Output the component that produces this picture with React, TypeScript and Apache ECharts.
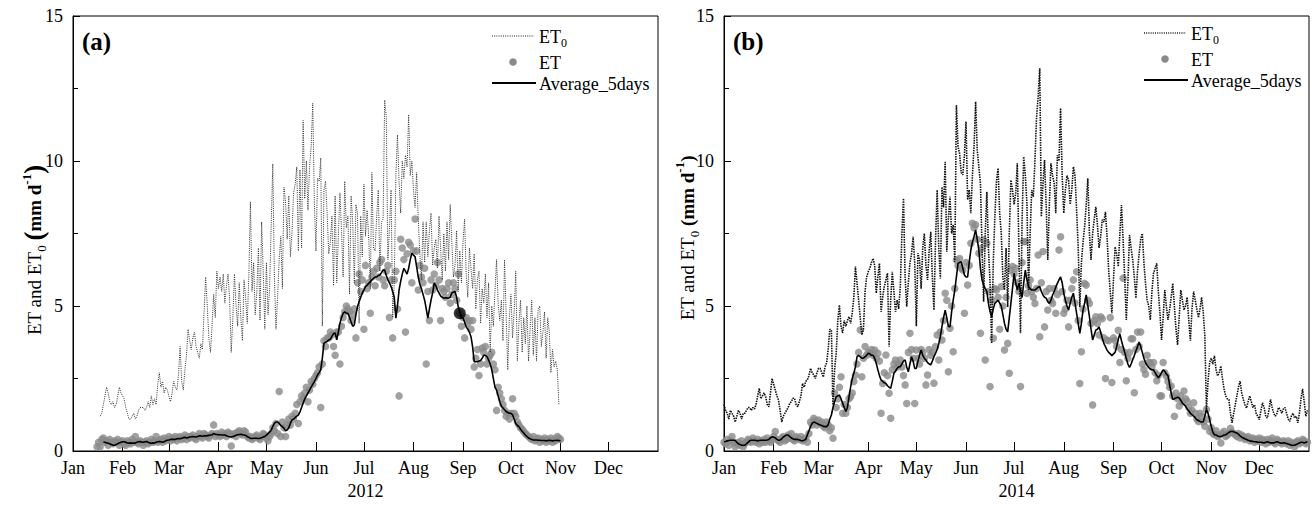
import React, { useEffect, useRef } from "react";
import * as echarts from "echarts";

const FONT = "'Liberation Serif', 'Times New Roman', serif";
const MONTHS = ["Jan", "Feb", "Mar", "Apr", "May", "Jun", "Jul", "Aug", "Sep", "Oct", "Nov", "Dec"];
const MONTH_STARTS_2012 = [0, 31, 60, 91, 121, 152, 182, 213, 244, 274, 305, 335];
const MONTH_STARTS_2014 = [0, 31, 59, 90, 120, 151, 181, 212, 243, 273, 304, 334];
const Y_TICKS = [0, 5, 10, 15];

// Panel (a) 2012 — day-of-year index of first value
const A_ET0_START = 17;
const A_ET0 = [
  1.2,1.3,1.6,1.9,2.2,2.0,1.7,1.6,1.7,1.5,
  1.6,1.9,2.2,2.0,1.9,1.8,1.5,1.3,1.1,1.1,
  1.2,1.3,1.1,1.2,1.4,1.5,1.5,1.5,1.4,1.5,
  1.7,1.5,1.9,1.6,1.8,1.6,2.3,2.7,2.2,2.4,
  2.0,2.2,2.1,1.9,1.7,2.0,2.4,2.2,2.1,2.6,
  3.6,2.4,2.1,2.8,3.3,4.2,3.8,3.5,3.9,4.1,
  3.6,3.4,3.2,3.7,3.5,4.8,6.0,5.0,3.9,3.4,
  4.3,5.4,4.6,6.2,5.6,6.0,5.5,6.1,5.1,5.7,
  6.1,5.2,3.4,4.6,6.1,5.0,4.3,5.8,4.6,3.8,
  5.9,5.3,4.4,6.0,8.6,5.5,6.5,4.7,5.5,7.0,
  4.5,7.9,6.2,4.2,6.5,4.7,5.6,7.8,9.9,6.0,
  4.2,5.3,6.6,7.4,5.6,9.1,8.6,7.3,8.8,6.7,
  7.5,8.9,9.2,9.8,6.9,9.7,7.0,11.4,8.7,10.0,
  8.3,9.8,10.5,12.0,8.6,6.9,9.4,9.3,10.1,4.3,
  9.0,9.3,8.2,6.8,7.2,8.1,5.7,8.8,5.8,7.4,
  8.9,7.6,6.0,9.3,7.7,8.1,5.4,8.8,7.9,5.8,
  8.5,8.2,4.4,8.1,6.7,9.2,7.4,8.3,7.4,5.6,
  9.6,7.0,6.9,8.1,9.0,6.2,7.9,8.0,12.1,11.5,
  6.6,7.7,9.0,4.6,5.8,9.5,10.9,9.3,8.2,10.0,
  9.4,10.2,9.8,11.6,9.5,10.0,9.0,8.4,9.6,8.0,
  6.8,5.9,7.9,6.5,7.9,6.7,7.6,8.2,6.4,7.0,
  7.3,6.3,8.1,7.0,5.9,7.5,6.2,7.9,6.6,8.5,
  7.2,6.0,6.4,7.6,5.5,6.9,5.8,7.2,8.0,6.1,
  5.3,7.0,6.3,5.6,6.8,4.9,5.9,6.2,4.4,5.6,
  5.1,6.1,4.6,5.8,3.4,5.0,4.3,5.5,6.6,5.1,
  4.5,5.2,3.8,6.6,4.7,2.8,4.6,5.4,3.9,4.8,
  6.2,3.1,4.4,5.2,3.4,4.6,3.7,5.0,3.1,4.2,
  5.2,3.3,4.6,3.1,4.9,5.0,3.6,4.1,4.8,3.2,
  4.6,4.1,2.7,3.5,2.9,3.1,2.8,1.6,
];

const A_ET_START = 15;
const A_ET = [
  0.15,0.3,0.15,0.4,0.45,0.3,0.35,0.2,0.4,0.3,
  0.25,0.35,0.3,0.4,0.2,0.3,0.35,0.25,0.2,0.35,
  0.3,0.25,0.4,0.3,0.5,0.3,0.25,0.35,0.3,0.2,
  0.3,0.35,0.25,0.3,0.4,0.3,0.35,0.5,0.3,0.35,
  0.4,0.3,0.45,0.35,0.4,0.5,0.35,0.45,0.4,0.5,
  0.35,0.45,0.5,0.4,0.45,0.55,0.4,0.5,0.45,0.5,
  0.55,0.45,0.4,0.5,0.6,0.5,0.45,0.6,0.55,0.5,
  0.45,0.55,0.6,0.9,0.5,0.6,0.55,0.5,0.65,0.55,
  0.6,0.5,0.65,0.6,0.17,0.55,0.6,0.5,0.65,0.7,
  0.6,0.55,0.7,0.65,0.5,0.45,0.5,0.4,0.45,0.5,
  0.55,0.45,0.4,0.5,0.6,0.55,0.45,0.35,0.5,0.6,
  0.8,0.7,0.95,0.6,2.05,0.5,1.0,0.8,0.5,0.9,
  1.1,0.9,1.2,1.1,1.3,1.6,0.95,1.7,1.9,1.8,
  2.0,2.2,1.7,2.1,2.4,2.3,2.5,2.6,2.7,2.9,
  1.5,3.0,3.8,3.6,3.9,3.9,4.1,4.0,3.6,3.3,
  4.1,4.1,3.0,4.3,4.6,4.8,5.0,4.9,4.8,4.5,
  4.7,4.9,3.9,5.8,6.1,5.5,5.9,4.2,6.4,5.6,
  5.8,4.75,6.0,6.2,5.7,6.3,6.0,6.5,6.6,5.9,
  5.7,6.2,6.4,4.6,5.9,3.9,5.9,6.2,4.9,1.9,
  7.3,7.0,6.6,4.1,6.8,7.2,7.1,5.8,6.9,8.0,
  6.9,5.55,6.4,6.0,5.8,6.3,3.0,5.5,4.5,5.9,
  5.55,6.1,5.7,6.5,5.9,4.5,5.6,5.5,5.3,5.6,
  5.8,5.1,5.4,5.8,5.6,5.2,6.1,4.75,4.3,4.6,
  3.9,4.6,4.4,4.5,4.2,4.5,2.9,3.2,3.5,2.6,
  3.0,3.55,3.4,3.6,3.0,3.2,3.3,3.4,3.0,2.8,
  1.4,2.2,2.0,1.8,1.6,1.4,1.2,1.3,1.1,1.3,
  1.8,1.3,1.2,1.0,0.9,0.8,0.75,0.67,0.6,0.55,
  0.5,0.45,0.4,0.5,0.35,0.4,0.45,0.3,0.4,0.35,
  0.45,0.3,0.4,0.35,0.45,0.3,0.4,0.35,0.5,0.45,0.4,
];

const A_AVG_START = 19;
const A_AVG = [
  0.3,0.3,0.28,0.27,0.25,0.22,0.2,0.2,0.22,0.25,
  0.28,0.3,0.32,0.32,0.3,0.28,0.27,0.28,0.27,0.27,
  0.27,0.3,0.32,0.33,0.3,0.3,0.32,0.33,0.3,0.28,
  0.27,0.28,0.27,0.3,0.32,0.33,0.32,0.3,0.32,0.35,
  0.37,0.38,0.4,0.4,0.4,0.4,0.42,0.43,0.42,0.44,
  0.46,0.47,0.45,0.46,0.48,0.49,0.5,0.49,0.48,0.5,
  0.52,0.52,0.51,0.52,0.52,0.53,0.54,0.55,0.56,0.6,
  0.58,0.57,0.56,0.56,0.55,0.55,0.55,0.53,0.5,0.49,
  0.48,0.5,0.52,0.54,0.56,0.57,0.58,0.56,0.55,0.54,
  0.5,0.47,0.44,0.43,0.44,0.44,0.44,0.43,0.44,0.46,
  0.48,0.5,0.55,0.6,0.65,0.72,0.85,0.95,1.0,1.0,
  0.95,0.88,0.84,0.78,0.7,0.72,0.8,0.95,1.07,1.1,
  1.15,1.2,1.24,1.35,1.5,1.65,1.8,1.9,2.0,2.1,
  2.2,2.3,2.39,2.5,2.62,2.7,2.8,3.2,3.72,3.75,
  3.78,3.83,3.85,3.95,4.05,4.07,3.83,4.1,4.4,4.6,
  4.75,4.8,4.75,4.75,4.6,4.45,4.3,4.35,4.7,4.98,
  5.15,5.3,5.45,5.55,5.67,5.72,5.78,5.84,5.9,5.95,
  6.0,6.0,6.05,6.07,6.15,6.24,6.24,6.05,5.9,5.8,
  5.67,5.5,5.3,4.58,5.0,5.55,5.85,6.1,6.3,6.2,
  6.1,6.3,6.6,6.82,6.75,6.7,6.35,6.0,5.75,5.6,
  5.4,5.2,4.9,4.58,4.9,5.2,5.45,5.8,5.7,5.55,
  5.45,5.35,5.3,5.27,5.28,5.28,5.27,5.3,5.45,5.48,
  5.5,5.3,4.98,4.8,4.6,4.58,4.45,4.28,4.2,4.1,
  3.94,3.6,3.08,3.08,3.08,3.1,3.12,3.2,3.3,3.3,
  3.25,3.14,3.0,2.8,2.5,2.2,2.1,1.9,1.7,1.55,
  1.48,1.42,1.36,1.33,1.3,1.3,1.25,1.1,0.95,0.88,
  0.84,0.75,0.68,0.62,0.55,0.5,0.45,0.42,0.4,0.38,
  0.38,0.38,0.37,0.37,0.36,0.36,0.36,0.35,0.36,0.37,
  0.36,0.35,0.36,0.36,0.37,0.36,0.35,
];

const A_MARK_DAY = [242];
const A_MARK_VALUE = [4.75];

// Panel (b) 2014 — values from Jan 1 (day 0)
const B_ET0 = [
  1.6,1.4,1.3,1.1,1.4,1.3,1.2,1.0,1.2,1.4,
  1.3,1.1,1.3,1.3,1.4,1.5,1.5,1.4,1.5,1.45,
  1.6,1.9,2.16,1.8,1.9,2.0,1.87,1.6,1.53,2.0,
  2.5,2.3,2.1,1.9,1.76,1.4,1.0,1.2,1.3,1.4,
  1.5,1.64,1.7,1.82,1.82,1.6,1.53,1.7,1.9,2.33,
  2.2,2.4,2.45,2.6,2.85,2.7,2.62,2.5,2.7,2.85,
  2.85,2.7,2.55,2.9,3.03,3.5,4.2,4.17,1.59,2.8,
  3.37,4.5,5.03,4.3,4.07,4.5,4.3,4.5,4.63,4.4,
  4.75,5.3,6.36,5.8,5.2,4.6,4.0,4.2,5.5,6.0,
  6.18,6.3,6.5,6.64,6.4,5.44,6.0,6.47,4.8,5.3,
  5.67,5.9,6.13,3.6,5.2,6.18,5.5,4.8,5.2,4.9,
  5.67,7.5,8.71,6.0,4.98,5.8,6.47,6.8,7.39,6.5,
  4.3,6.82,6.59,5.6,7.0,7.5,6.4,5.9,6.9,7.56,
  6.0,4.86,7.3,9.0,7.0,5.95,9.1,8.4,9.97,6.87,
  8.0,8.77,7.5,7.8,6.53,11.93,10.5,10.26,9.6,9.52,
  10.2,11.36,8.66,9.0,8.2,9.5,10.5,12.05,10.38,9.8,
  9.23,7.0,5.15,7.5,8.94,7.0,5.78,3.71,6.5,8.08,
  9.3,9.75,8.2,7.5,6.0,5.55,7.0,4.97,7.5,9.34,
  9.0,8.5,8.88,9.92,7.0,4.06,8.0,10.15,9.5,8.54,
  5.55,7.5,9.0,8.77,10.0,11.5,12.2,13.2,8.08,9.2,
  10.03,8.5,6.59,8.5,9.92,9.5,9.23,8.2,10.2,10.0,
  11.82,9.5,8.2,9.0,9.5,9.34,8.5,9.0,9.8,9.5,
  8.31,7.0,4.97,6.5,7.2,7.73,8.5,9.4,7.5,6.59,
  7.5,8.0,8.42,7.8,7.0,7.39,7.97,7.9,8.25,7.39,
  6.24,5.5,4.75,5.9,7.04,6.8,6.36,7.5,8.48,7.28,
  6.0,4.52,5.8,7.45,7.0,6.59,6.0,5.27,6.2,6.8,
  7.3,7.5,6.5,5.78,5.2,5.0,4.52,5.5,6.13,6.3,
  6.47,5.5,4.75,3.83,4.6,5.55,5.0,4.52,4.86,5.3,
  5.78,5.0,4.2,3.66,4.6,5.55,5.2,4.86,5.0,5.3,
  4.5,3.8,4.9,5.5,5.2,4.9,4.6,4.9,5.3,4.8,
  3.98,1.43,2.4,3.05,3.2,3.0,3.29,2.8,2.59,2.7,
  2.93,2.5,2.14,1.9,1.8,1.78,1.3,0.97,1.3,1.6,
  1.9,2.2,2.41,2.0,1.78,1.6,1.48,1.7,1.9,1.7,
  1.5,1.6,1.3,1.2,1.08,1.4,1.66,1.5,1.2,1.14,
  1.4,1.78,1.5,1.3,1.2,1.3,1.5,1.43,1.3,1.45,
  1.5,1.3,1.1,1.02,1.2,1.3,1.14,1.2,0.97,1.3,
  1.8,2.14,1.7,1.2,1.4,
];

const B_ET = [
  0.3,0.25,0.4,0.2,0.35,0.5,0.3,0.15,0.25,0.3,
  0.2,0.35,0.15,0.25,0.3,0.4,0.35,0.3,0.45,0.35,
  0.3,0.4,0.25,0.35,0.3,0.4,0.3,0.45,0.35,0.3,
  0.4,0.5,0.67,0.4,0.35,0.3,0.45,0.5,0.35,0.4,
  0.55,0.45,0.6,0.4,0.35,0.5,0.45,0.4,0.5,0.35,
  0.4,0.45,0.3,0.6,1.0,0.9,1.13,1.05,0.9,1.07,
  0.95,1.0,0.85,0.8,1.0,0.9,0.7,0.8,0.44,2.0,
  1.5,1.8,2.2,2.56,1.3,1.6,1.3,1.5,1.8,1.87,
  2.0,2.4,2.62,3.0,3.4,4.17,2.56,3.2,3.6,3.3,
  3.4,3.37,3.5,3.3,3.48,3.2,3.37,3.1,1.3,2.33,
  2.7,3.31,2.6,1.99,1.13,2.8,3.0,3.14,2.9,3.0,
  3.14,2.9,2.6,2.28,1.64,3.4,4.06,3.5,3.2,1.64,
  3.48,3.2,3.0,3.5,3.4,3.2,2.28,2.62,3.5,3.3,
  3.4,2.34,3.6,4.0,3.14,4.1,3.83,4.5,5.44,5.2,
  2.73,4.23,5.0,3.42,5.6,6.59,6.4,6.64,6.3,6.24,
  4.75,6.5,5.72,6.4,7.16,7.85,7.7,7.8,7.3,6.82,
  4.06,7.0,7.28,3.14,7.16,5.5,2.22,5.2,3.89,5.6,
  5.55,5.3,4.2,5.67,5.0,3.48,5.3,3.71,2.68,6.24,
  6.36,6.1,6.3,5.8,5.5,2.22,6.5,7.22,7.22,5.44,
  5.7,5.9,5.5,5.3,5.09,5.6,6.76,3.94,5.8,6.88,
  4.28,5.5,4.86,5.6,5.2,5.09,5.6,4.75,5.4,6.93,
  7.39,5.5,4.75,4.9,5.2,4.28,5.2,5.6,5.9,5.1,
  6.18,4.5,2.33,3.42,4.9,5.78,5.72,5.2,5.09,4.4,
  1.59,4.5,4.63,4.4,4.0,4.63,4.56,3.9,2.5,3.83,
  3.8,4.6,2.36,3.9,3.81,3.6,4.16,3.05,3.5,5.96,
  3.4,2.42,3.2,3.4,3.87,3.87,2.01,3.5,4.1,3.6,
  4.1,3.0,2.8,2.65,3.3,3.05,3.05,2.9,3.05,2.7,
  2.42,2.6,1.9,1.9,3.05,2.7,2.59,2.4,2.2,2.24,
  1.9,1.2,2.0,1.8,1.55,1.9,1.7,2.07,1.8,1.71,
  1.5,1.3,1.4,1.66,1.3,1.1,1.02,1.3,1.2,1.0,
  0.85,1.43,1.1,0.68,0.8,0.6,0.57,0.7,0.5,0.55,
  0.28,0.6,0.68,0.5,0.55,0.6,0.78,0.65,0.6,0.57,
  0.5,0.6,0.45,0.55,0.5,0.4,0.45,0.5,0.35,0.4,
  0.45,0.3,0.4,0.35,0.45,0.3,0.4,0.35,0.25,0.4,
  0.3,0.35,0.45,0.3,0.25,0.4,0.35,0.3,0.25,0.35,
  0.3,0.25,0.35,0.2,0.3,0.25,0.15,0.3,0.35,0.25,
  0.3,0.4,0.35,0.25,0.3,
];

const B_AVG = [
  0.32,0.33,0.35,0.36,0.37,0.37,0.37,0.36,0.3,0.25,
  0.22,0.2,0.2,0.2,0.25,0.3,0.35,0.37,0.37,0.37,
  0.36,0.35,0.36,0.37,0.37,0.37,0.37,0.38,0.4,0.45,
  0.49,0.48,0.45,0.4,0.37,0.38,0.42,0.48,0.52,0.55,
  0.55,0.5,0.45,0.42,0.4,0.4,0.4,0.38,0.36,0.35,
  0.37,0.4,0.55,0.7,0.84,0.95,1.0,0.98,0.95,0.92,
  0.9,0.88,0.85,0.84,0.84,0.9,1.1,1.24,1.5,1.7,
  1.87,1.9,1.93,1.8,1.65,1.5,1.36,1.5,1.87,2.2,
  2.5,2.68,2.9,3.25,3.3,3.25,3.2,3.2,3.25,3.3,
  3.37,3.35,3.3,3.3,3.2,3.02,2.8,2.6,2.45,2.4,
  2.35,2.33,2.25,2.2,2.16,2.4,2.68,2.75,2.85,2.9,
  2.91,3.0,3.1,3.14,2.9,2.73,3.0,3.25,3.1,2.85,
  2.85,3.1,3.3,3.48,3.3,3.2,3.14,3.05,3.0,2.97,
  3.1,3.25,3.37,3.5,3.7,3.94,4.3,4.6,4.86,4.6,
  4.3,4.28,4.8,5.2,5.55,6.0,6.47,6.5,6.53,6.3,
  6.07,6.0,6.0,6.5,6.93,7.2,7.4,7.62,7.3,6.93,
  6.3,5.9,5.72,5.6,5.5,5.09,4.8,4.63,4.9,5.09,
  5.15,5.2,5.1,5.0,4.7,4.4,4.2,4.11,4.6,5.09,
  5.6,6.13,5.8,5.55,5.78,5.5,5.3,5.8,6.24,5.9,
  5.67,5.6,5.55,5.55,5.55,5.6,5.65,5.67,5.5,5.38,
  5.3,5.27,5.15,5.09,5.2,5.38,5.5,5.65,5.78,5.9,
  6.0,5.8,5.44,5.2,5.0,4.86,5.1,5.3,5.44,5.1,
  4.75,4.4,4.06,4.4,4.86,5.1,5.38,5.0,4.63,4.2,
  3.83,4.0,4.17,4.2,4.28,4.1,3.9,3.71,3.6,3.48,
  3.4,3.35,3.29,3.35,3.4,3.6,3.85,4.04,3.8,3.6,
  3.4,3.2,3.0,2.88,3.0,3.15,3.29,3.45,3.6,3.76,
  3.6,3.4,3.2,3.05,2.95,2.88,2.83,2.8,2.8,2.7,
  2.6,2.53,2.6,2.7,2.8,2.75,2.65,2.6,2.3,2.0,
  1.78,1.8,1.83,1.85,1.83,1.75,1.65,1.6,1.55,1.45,
  1.38,1.3,1.25,1.2,1.15,1.08,1.05,1.02,1.0,1.0,
  1.2,1.43,1.3,1.08,0.85,0.65,0.56,0.55,0.52,0.5,
  0.5,0.52,0.55,0.56,0.6,0.64,0.67,0.68,0.66,0.64,
  0.62,0.58,0.52,0.48,0.45,0.42,0.4,0.37,0.35,0.34,
  0.33,0.32,0.32,0.3,0.3,0.3,0.29,0.28,0.3,0.32,
  0.3,0.28,0.28,0.28,0.3,0.32,0.3,0.28,0.27,0.28,
  0.28,0.26,0.24,0.22,0.2,0.2,0.2,0.22,0.25,0.28,
  0.3,0.3,0.28,0.3,0.32,
];

const toPairs = (start: number, arr: number[]) => arr.map((v, i) => [start + i, v]);

const GRID_TOP = 16;
const GRID_H = 435;
const GRID_W = 585;
const GRID_A_LEFT = 73;
const GRID_B_LEFT = 724;

function xAxisFor(gridIndex: number, starts: number[], max: number, year: string) {
  return {
    type: "value",
    gridIndex,
    min: 0,
    max,
    name: year,
    nameLocation: "middle",
    nameGap: 31,
    nameTextStyle: { fontFamily: FONT, fontSize: 18, color: "#000" },
    axisLine: { show: true, lineStyle: { color: "#000", width: 1 } },
    axisTick: { show: true, inside: true, length: 9, customValues: starts, lineStyle: { color: "#000" } },
    axisLabel: {
      show: true,
      customValues: starts,
      margin: 8,
      fontFamily: FONT,
      fontSize: 18,
      color: "#000",
      formatter: (v: number) => MONTHS[starts.indexOf(v)] ?? "",
    },
    splitLine: { show: false },
  };
}

function yAxisFor(gridIndex: number) {
  return {
    type: "value",
    gridIndex,
    min: 0,
    max: 15,
    interval: 5,
    axisLine: { show: true, lineStyle: { color: "#000", width: 1 } },
    axisTick: { show: true, inside: true, length: 7, lineStyle: { color: "#000" } },
    minorTick: { show: true, splitNumber: 2, length: 5, lineStyle: { color: "#000" } },
    axisLabel: {
      margin: 10,
      fontFamily: FONT,
      fontSize: 18,
      color: "#000",
      customValues: Y_TICKS,
    },
    splitLine: { show: false },
    minorSplitLine: { show: false },
  };
}

function yNameFor(x: number, y: number, big: boolean) {
  return {
    type: "text",
    x,
    y,
    rotation: Math.PI / 2,
    style: {
      text: "{n|ET and ET}{s|0}{n| }{bp|(}{b|mm d}{p|-1}{bp|)}",
      align: "center",
      verticalAlign: "middle",
      rich: {
        n: { fontFamily: FONT, fontSize: 19, fill: "#000", lineHeight: 28, verticalAlign: "middle" },
        s: { fontFamily: FONT, fontSize: 13, fill: "#000", lineHeight: 28, verticalAlign: "bottom" },
        b: { fontFamily: FONT, fontSize: 19, fontWeight: "bold", fill: "#000", lineHeight: 28, verticalAlign: "middle" },
        bp: { fontFamily: FONT, fontSize: big ? 27 : 19, fontWeight: "bold", fill: "#000", lineHeight: 28, verticalAlign: "middle" },
        p: { fontFamily: FONT, fontSize: 13, fontWeight: "bold", fill: "#000", lineHeight: 28, verticalAlign: "top" },
      },
    },
  };
}

function legendFor(left: number, top: number, dotWidth: number) {
  const rich = {
    a: { fontFamily: FONT, fontSize: 18, fill: "#000", lineHeight: 24, verticalAlign: "middle" },
    s: { fontFamily: FONT, fontSize: 12, fill: "#000", lineHeight: 24, verticalAlign: "bottom" },
  };
  return [
    { type: "line", shape: { x1: left, y1: top, x2: left + 42, y2: top }, style: { stroke: "#222", lineWidth: dotWidth, lineDash: [1, 1.2] } },
    { type: "text", x: left + 47, y: top + 1, style: { text: "{a|ET}{s|0}", rich, verticalAlign: "middle", align: "left" } },
    { type: "circle", shape: { cx: left + 21, cy: top + 26, r: 3.8 }, style: { fill: "#8a8a8a" } },
    { type: "text", x: left + 47, y: top + 27, style: { text: "ET", fontFamily: FONT, fontSize: 18, fill: "#000", verticalAlign: "middle", align: "left" } },
    { type: "line", shape: { x1: left, y1: top + 47, x2: left + 44, y2: top + 47 }, style: { stroke: "#000", lineWidth: 2 } },
    { type: "text", x: left + 47, y: top + 48, style: { text: "Average_5days", fontFamily: FONT, fontSize: 18, fill: "#000", verticalAlign: "middle", align: "left" } },
  ];
}

export default function App() {
  const ref = useRef<HTMLDivElement>(null);
  useEffect(() => {
    if (!ref.current) return;
    const chart = echarts.init(ref.current, undefined, { renderer: "svg" });
    const gridBase = { top: GRID_TOP, height: GRID_H, width: GRID_W, show: true, borderColor: "#000", borderWidth: 1, backgroundColor: "transparent" };
    chart.setOption({
      animation: false,
      backgroundColor: "#fff",
      textStyle: { fontFamily: FONT },
      grid: [
        { ...gridBase, left: GRID_A_LEFT },
        { ...gridBase, left: GRID_B_LEFT },
      ],
      xAxis: [
        xAxisFor(0, MONTH_STARTS_2012, 366, "2012"),
        xAxisFor(1, MONTH_STARTS_2014, 365, "2014"),
      ],
      yAxis: [yAxisFor(0), yAxisFor(1)],
      series: [
        {
          name: "ET0", type: "line", xAxisIndex: 0, yAxisIndex: 0, showSymbol: false,
          data: toPairs(A_ET0_START, A_ET0),
          lineStyle: { color: "#333", width: 1, type: [1, 1.2] },
        },
        {
          name: "ET", type: "scatter", xAxisIndex: 0, yAxisIndex: 0, symbolSize: 7.5,
          data: toPairs(A_ET_START, A_ET),
          itemStyle: { color: "#8a8a8a" },
        },
        {
          name: "Average_5days", type: "line", xAxisIndex: 0, yAxisIndex: 0, showSymbol: false,
          data: toPairs(A_AVG_START, A_AVG),
          lineStyle: { color: "#000", width: 1.6 },
        },
        {
          name: "mark", type: "scatter", xAxisIndex: 0, yAxisIndex: 0, symbolSize: 12,
          data: A_MARK_DAY.map((d, i) => [d, A_MARK_VALUE[i]]),
          itemStyle: { color: "#000" },
        },
        {
          name: "ET0 2014", type: "line", xAxisIndex: 1, yAxisIndex: 1, showSymbol: false,
          data: toPairs(0, B_ET0),
          lineStyle: { color: "#111", width: 1.6, type: [1.5, 1] },
        },
        {
          name: "ET 2014", type: "scatter", xAxisIndex: 1, yAxisIndex: 1, symbolSize: 7.5,
          data: toPairs(0, B_ET),
          itemStyle: { color: "#8a8a8a" },
        },
        {
          name: "Average_5days 2014", type: "line", xAxisIndex: 1, yAxisIndex: 1, showSymbol: false,
          data: toPairs(0, B_AVG),
          lineStyle: { color: "#000", width: 1.6 },
        },
      ],
      graphic: [
        { type: "text", x: 82, y: 41, style: { text: "(a)", fontFamily: FONT, fontSize: 25, fontWeight: "bold", fill: "#000", verticalAlign: "middle" } },
        { type: "text", x: 733, y: 41, style: { text: "(b)", fontFamily: FONT, fontSize: 25, fontWeight: "bold", fill: "#000", verticalAlign: "middle" } },
        yNameFor(34, 250, true),
        yNameFor(687, 238, false),
        ...legendFor(492, 36, 1),
        ...legendFor(1144, 33, 1.6),
      ],
    });
    return () => chart.dispose();
  }, []);
  return <div ref={ref} style={{ position: "fixed", left: 0, top: 0, width: 1312, height: 505, background: "#fff" }} />;
}
